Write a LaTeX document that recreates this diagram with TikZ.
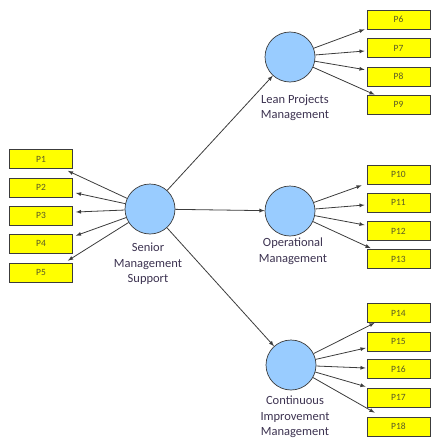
\documentclass[tikz,border=0pt]{standalone}
\usepackage{fontspec}
\setmainfont{Carlito}
\usetikzlibrary{arrows}
\usetikzlibrary{math}
\definecolor{myblue}{RGB}{153,204,255}
\definecolor{myyellow}{RGB}{255,255,0}
\definecolor{myline}{RGB}{60,60,60}
\definecolor{mytext}{RGB}{60,50,80}
\definecolor{mybox}{RGB}{90,90,40}

\begin{document}
\begin{tikzpicture}[x=1pt,y=-1pt,
  construct/.style={circle,draw=myline,fill=myblue,minimum size=50pt,inner sep=0pt,line width=0.7pt},
  item/.style={rectangle,draw=myline,fill=myyellow,minimum width=63pt,minimum height=19pt,inner sep=0pt,line width=0.7pt,text=mybox,font=\fontsize{9.5}{10}\selectfont},
  lbl/.style={align=center,text=mytext,font=\fontsize{12.5}{15.5}\selectfont},
  link/.style={-latex,draw=myline,line width=0.8pt}]
\tikzmath{
\xl=41;
\xr=398.5;
}
\useasboundingbox (0,0) rectangle (441,447);

% constructs
\node[construct] (SMS) at (150,209) {};
\node[construct] (LPM) at (290,57) {};
\node[construct] (OM) at (290,211) {};
\node[construct] (CIM) at (291,365) {};

\node[lbl] (SMSlbl) at (148,264) {Senior\\Management\\Support};
\node[lbl] (LPMlbl) at (295,108) {Lean Projects\\Management};
\node[lbl] (OMlbl) at (293,251) {Operational\\Management};
\node[lbl] (CIMlbl) at (295,417) {Continuous\\Improvement\\Management};

% indicators
\node[item] (P1) at (\xl,159) {P1};
\node[item] (P2) at (\xl,187.5) {P2};
\node[item] (P3) at (\xl,215.5) {P3};
\node[item] (P4) at (\xl,243.5) {P4};
\node[item] (P5) at (\xl,272.5) {P5};

\node[item] (P6) at (\xr,19.5) {P6};
\node[item] (P7) at (\xr,48) {P7};
\node[item] (P8) at (\xr,76.5) {P8};
\node[item] (P9) at (\xr,104.5) {P9};

\node[item] (P10) at (\xr,174.5) {P10};
\node[item] (P11) at (\xr,202.5) {P11};
\node[item] (P12) at (\xr,231) {P12};
\node[item] (P13) at (\xr,259) {P13};

\node[item] (P14) at (\xr,313) {P14};
\node[item] (P15) at (\xr,341.5) {P15};
\node[item] (P16) at (\xr,369) {P16};
\node[item] (P17) at (\xr,397.5) {P17};
\node[item] (P18) at (\xr,426.5) {P18};

% paths between constructs
\draw[link] (SMS) -- (LPM);
\draw[link] (SMS) -- (OM);
\draw[link] (SMS) -- (CIM);

% loadings
\draw[link] (SMS) -- ([xshift=-5pt,yshift=-2pt]P1.south east);
\draw[link] (SMS) -- ([xshift=3pt,yshift=-5.5pt]P2.east);
\draw[link] (SMS) -- ([xshift=3pt,yshift=3.5pt]P3.east);
\draw[link] (SMS) -- ([xshift=3pt,yshift=-2pt]P4.north east);
\draw[link] (SMS) -- ([xshift=-5pt,yshift=2pt]P5.north east);

\draw[link] (LPM) -- ([xshift=-2pt]P6.south west);
\draw[link] (LPM) -- ([xshift=-2pt,yshift=-3pt]P7.west);
\draw[link] (LPM) -- ([xshift=-2pt,yshift=-3pt]P8.north west);
\draw[link] (LPM) -- ([xshift=8pt]P9.north west);

\draw[link] (OM) -- ([xshift=-5pt,yshift=-1pt]P10.south west);
\draw[link] (OM) -- ([xshift=-2pt,yshift=-2.5pt]P11.west);
\draw[link] (OM) -- ([xshift=-2pt,yshift=6pt]P12.west);
\draw[link] (OM) -- ([xshift=4pt,yshift=1pt]P13.north west);

\draw[link] (CIM) -- ([xshift=8pt]P14.south west);
\draw[link] (CIM) -- ([xshift=-1pt,yshift=-6.5pt]P15.west);
\draw[link] (CIM) -- ([xshift=-1pt,yshift=1pt]P16.west);
\draw[link] (CIM) -- ([xshift=-1pt,yshift=1pt]P17.north west);
\draw[link] (CIM) -- ([xshift=8pt,yshift=4pt]P18.north west);

\end{tikzpicture}
\end{document}
